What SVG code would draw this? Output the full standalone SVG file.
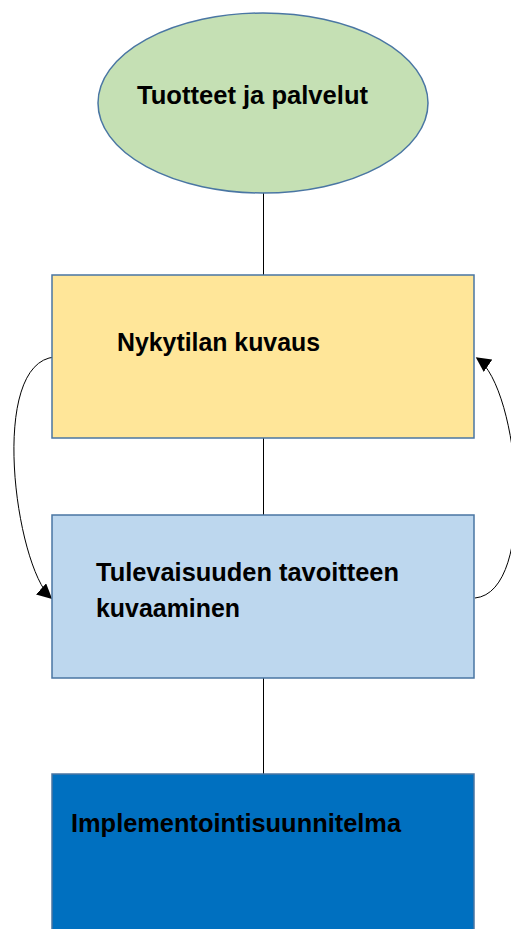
<svg xmlns="http://www.w3.org/2000/svg" width="511" height="929" viewBox="0 0 511 929">
<style>
.lbl{font-family:"Liberation Sans",Arial,sans-serif;font-weight:bold;font-size:25px;fill:#000}
.shape{stroke:#4A76A3;stroke-width:1.5}
.conn{stroke:#000;stroke-width:1;fill:none}
</style>
<defs>
<marker id="arr" viewBox="0 0 10 10" refX="9" refY="5" markerWidth="15" markerHeight="15" markerUnits="userSpaceOnUse" orient="auto">
<path d="M0,0 L10,5 L0,10 Z" fill="#000"/>
</marker>
</defs>
<rect width="511" height="929" fill="#fff"/>
<g id="connectors">
<line class="conn" x1="263.5" y1="193" x2="263.5" y2="275"/>
<line class="conn" x1="263.5" y1="438" x2="263.5" y2="515"/>
<line class="conn" x1="263.5" y1="678" x2="263.5" y2="774"/>
<path class="conn" d="M55,357 C-12,362 15,565 51,598" marker-end="url(#arr)"/>
<path class="conn" d="M475,598 C538,592 520,388 477,358" marker-end="url(#arr)"/>
</g>
<g id="node-tuotteet">
<ellipse class="shape" cx="263" cy="103" rx="165" ry="90" fill="#C5E0B4"/>
<text class="lbl" x="137" y="104" textLength="231" lengthAdjust="spacingAndGlyphs">Tuotteet ja palvelut</text>
</g>
<g id="node-nykytila">
<rect class="shape" x="52" y="275" width="422" height="163" fill="#FFE699"/>
<text class="lbl" x="117" y="351" textLength="203" lengthAdjust="spacingAndGlyphs">Nykytilan kuvaus</text>
</g>
<g id="node-tulevaisuus">
<rect class="shape" x="52" y="515" width="422" height="163" fill="#BDD7EE"/>
<text class="lbl" x="96" y="581" textLength="303" lengthAdjust="spacingAndGlyphs">Tulevaisuuden tavoitteen</text>
<text class="lbl" x="96" y="617" textLength="144" lengthAdjust="spacingAndGlyphs">kuvaaminen</text>
</g>
<g id="node-implementointi">
<rect class="shape" x="52" y="774" width="422" height="170" fill="#0070C0"/>
<text class="lbl" x="71" y="832" textLength="330" lengthAdjust="spacingAndGlyphs">Implementointisuunnitelma</text>
</g>
</svg>
